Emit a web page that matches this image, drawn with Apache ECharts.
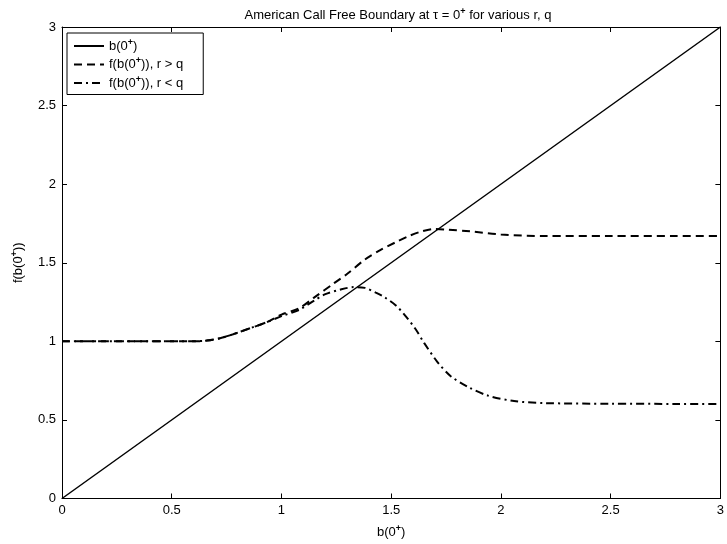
<!DOCTYPE html>
<html>
<head>
<meta charset="utf-8">
<script src="https://cdn.jsdelivr.net/npm/echarts@6/dist/echarts.min.js"></script>
<style>html,body{margin:0;padding:0;background:#fff}#c{width:727px;height:544px}</style>
</head>
<body>
<div id="c"></div>
<script>
var solidX = [0, 3];
var solidY = [0, 3];
var rgtqX = [0,0.2,0.4,0.6,0.66,0.72,0.78,0.85,0.93,1.0,1.08,1.15,1.24,1.3,1.38,1.45,1.52,1.58,1.64,1.7,1.76,1.86,2.0,2.2,2.5,2.8,3.0];
var rgtqY = [1.0,1.0,1.0,1.0,1.005,1.02,1.045,1.08,1.12,1.17,1.21,1.28,1.37,1.43,1.52,1.58,1.63,1.67,1.70,1.715,1.71,1.70,1.68,1.67,1.67,1.67,1.67];
var rltqX = [0,0.2,0.4,0.6,0.66,0.72,0.78,0.85,0.93,1.0,1.08,1.15,1.2,1.27,1.33,1.38,1.43,1.47,1.52,1.56,1.61,1.65,1.71,1.77,1.85,1.94,2.06,2.2,2.5,2.8,3.0];
var rltqY = [1.0,1.0,1.0,1.0,1.005,1.02,1.045,1.08,1.12,1.16,1.20,1.26,1.30,1.33,1.345,1.34,1.31,1.28,1.23,1.17,1.08,0.99,0.87,0.78,0.71,0.655,0.62,0.607,0.603,0.602,0.602];

function pairs(xs, ys) { return xs.map(function (x, i) { return [x, ys[i]]; }); }

var FONT = 'Liberation Sans, Arial, sans-serif';
var rich = {
  t: { fontFamily: FONT, fontSize: 13, fontWeight: 'normal', color: '#000' },
  s: { fontFamily: FONT, fontSize: 9, fontWeight: 'bold', color: '#000', verticalAlign: 'top', padding: [0, 0, 7, 0] }
};
var legendNames = {
  b: '{t|b(0}{s|+}{t|)}',
  f1: '{t|f(b(0}{s|+}{t|)), r > q}',
  f2: '{t|f(b(0}{s|+}{t|)), r < q}'
};
function axisBase(extra) {
  var a = {
    type: 'value', min: 0, max: 3, interval: 0.5,
    axisLine: { show: true, onZero: false, lineStyle: { color: '#000', width: 1 } },
    axisTick: { show: true, inside: true, length: 5, lineStyle: { color: '#000' } },
    splitLine: { show: false }
  };
  for (var k in extra) a[k] = extra[k];
  return a;
}
var chart = echarts.init(document.getElementById('c'));
chart.setOption({
  animation: false,
  backgroundColor: '#fff',
  title: {
    text: '{t|American Call Free Boundary at τ = 0}{s|+}{t| for various r, q}',
    left: 393, textAlign: 'center', top: 2,
    textStyle: { fontWeight: 'normal', fontSize: 13, rich: rich }
  },
  legend: {
    show: true,
    orient: 'vertical', left: 67, top: 33,
    data: ['b', 'f1', 'f2'],
    formatter: function (n) { return legendNames[n]; },
    textStyle: { rich: rich },
    itemStyle: { opacity: 0, borderWidth: 0 },
    borderColor: '#000', borderWidth: 1, backgroundColor: '#fff',
    padding: [5, 20, 5, 6], itemGap: 4, itemWidth: 30, itemHeight: 15
  },
  grid: { left: 62, right: 2, top: 27, bottom: 45, containLabel: false },
  xAxis: [
    axisBase({
      position: 'bottom',
      name: '{t|b(0}{s|+}{t|)}', nameLocation: 'middle', nameGap: 26,
      nameTextStyle: { rich: rich },
      axisLabel: { color: '#000', fontFamily: FONT, fontSize: 13, margin: 5 }
    }),
    axisBase({ position: 'top', axisLabel: { show: false } })
  ],
  yAxis: [
    axisBase({
      position: 'left',
      name: '{t|f(b(0}{s|+}{t|))}', nameLocation: 'middle', nameGap: 36, nameRotate: 90,
      nameTextStyle: { rich: rich },
      axisLabel: { color: '#000', fontFamily: FONT, fontSize: 13, margin: 6 }
    }),
    axisBase({ position: 'right', axisLabel: { show: false } })
  ],
  series: [
    { name: 'b', type: 'line', data: pairs(solidX, solidY), symbol: 'none',
      lineStyle: { color: '#000', width: 1.5, type: 'solid' }, itemStyle: { color: '#000' } },
    { name: 'f1', type: 'line', data: pairs(rgtqX, rgtqY), symbol: 'none', smooth: 0.3,
      lineStyle: { color: '#000', width: 2, type: [8, 5] }, itemStyle: { color: '#000' } },
    { name: 'f2', type: 'line', data: pairs(rltqX, rltqY), symbol: 'none', smooth: 0.3,
      lineStyle: { color: '#000', width: 2, type: [8, 4, 2, 4] }, itemStyle: { color: '#000' } }
  ]
});
</script>
</body>
</html>
